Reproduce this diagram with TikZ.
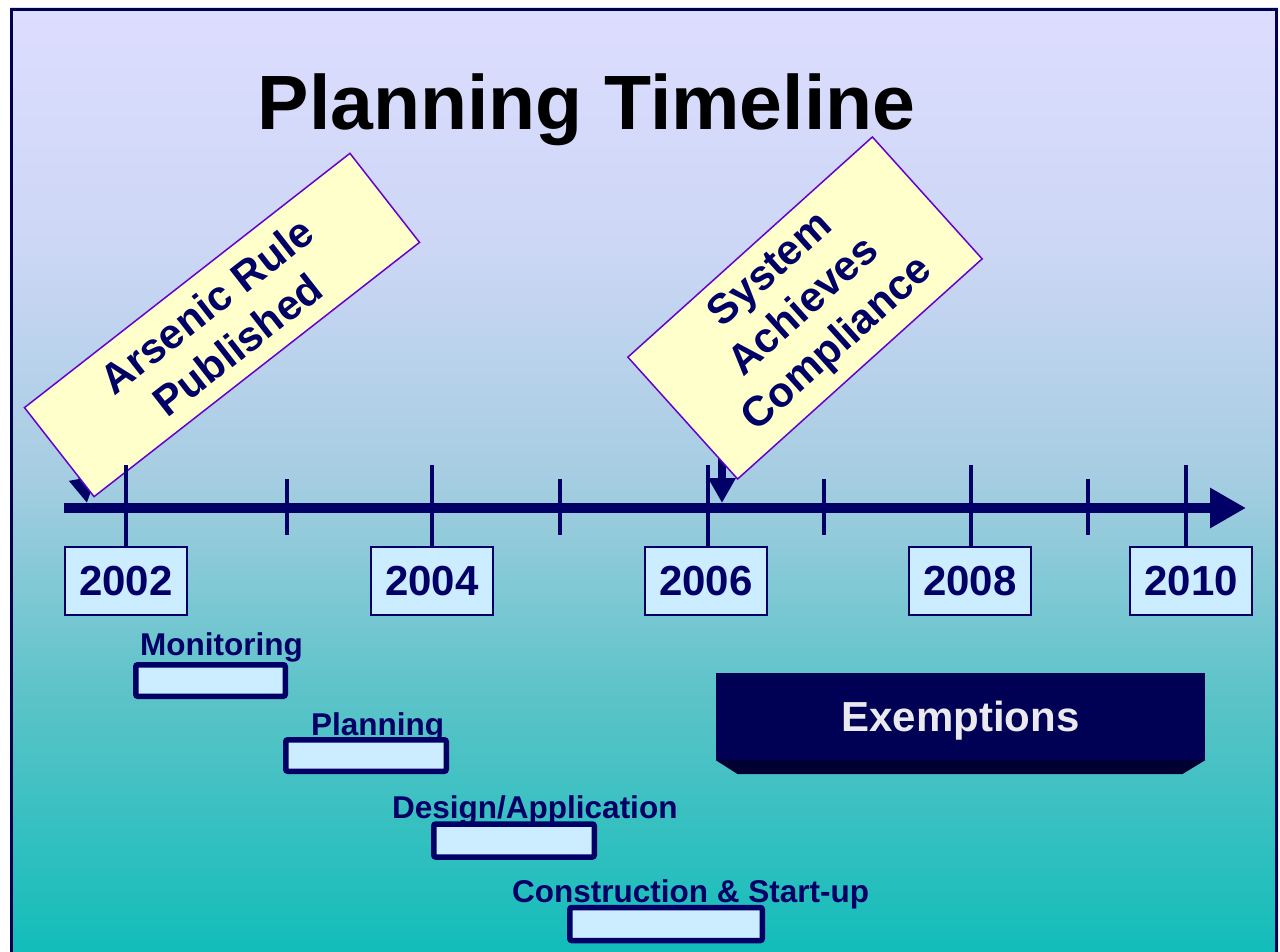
\documentclass[tikz,border=0pt]{standalone}
\usepackage{fontspec}
\setmainfont{Liberation Sans}
\usetikzlibrary{arrows.meta,calc}
\definecolor{navy}{RGB}{0,0,102}
\definecolor{framec}{RGB}{0,0,80}
\definecolor{boxfill}{RGB}{204,236,255}
\definecolor{signfill}{RGB}{255,255,204}
\definecolor{signedge}{RGB}{102,0,204}
\definecolor{exfill}{RGB}{0,0,85}
\definecolor{exdark}{RGB}{0,0,51}
\definecolor{extext}{RGB}{234,234,238}
\definecolor{bgA}{RGB}{18,189,185}
\definecolor{bgB}{RGB}{90,195,200}
\definecolor{bgC}{RGB}{165,205,225}
\definecolor{bgD}{RGB}{205,215,245}
\definecolor{bgE}{RGB}{221,221,255}
\pgfdeclareverticalshading{bgshade}{100bp}{color(0bp)=(bgA); color(25bp)=(bgA); color(38.3bp)=(bgB); color(50bp)=(bgC); color(62.5bp)=(bgD); color(75bp)=(bgE); color(100bp)=(bgE)}
\begin{document}
\begin{tikzpicture}[x=1pt,y=-1pt,
  yearbox/.style={draw=navy, line width=2pt, fill=boxfill, minimum width=122pt, minimum height=68pt, inner sep=0pt, text=navy, font=\fontsize{42}{48}\selectfont\bfseries},
  signbox/.style={draw=signedge, line width=1.5pt, fill=signfill, text=navy, align=center, inner sep=0pt, font=\fontsize{42}{50}\selectfont\bfseries},
  barbox/.style={draw=navy, line width=5.5pt, fill=boxfill, rounded corners=2pt, minimum height=32pt, inner sep=0pt},
  lbl/.style={anchor=base west, inner sep=0pt, text=navy, font=\fontsize{31.5}{36}\selectfont\bfseries},
  longtick/.style={draw=navy, line width=4pt},
  shorttick/.style={draw=navy, line width=3.5pt},
  pointer/.style={draw=navy, line width=8pt, -{Triangle[length=25pt,width=26pt]}},
]
\useasboundingbox (0,0) rectangle (1280,952);
\fill[white] (0,0) rectangle (1280,952);
\shade[shading=bgshade] (10,8) rectangle (1278,952);
\draw[framec, line width=3pt] (11.5,952) -- (11.5,9.5) -- (1276.5,9.5) -- (1276.5,952);

% title
\node[anchor=base, inner sep=0pt, font=\fontsize{77}{90}\selectfont\bfseries] (title) at (586.5,130) {Planning Timeline};

% pointers under the signs
\coordinate (p1s) at (74,430);
\coordinate (p1e) at (87,503);
\coordinate (p2s) at (722,430);
\coordinate (p2e) at (722,503);
\draw[pointer] (p1s) -- (p1e);
\draw[pointer] (p2s) -- (p2e);

% signs
\node[signbox, minimum width=413pt, minimum height=113pt, rotate=38] (arsenic) at (222,325) {Arsenic Rule\\Published};
\node[signbox, minimum width=329pt, minimum height=164pt, rotate=42] (compl) at (805,308) {System\\Achieves\\Compliance};

% axis
\coordinate (ax0) at (64,508);
\coordinate (ax1) at (1246,508);
\draw[navy, line width=10pt, -{Triangle[length=36pt,width=38pt]}] (ax0) -- (ax1);

% year boxes
\node[yearbox] (y2002) at (126,581) {2002};
\node[yearbox] (y2004) at (432,581) {2004};
\node[yearbox] (y2006) at (706,581) {2006};
\node[yearbox] (y2008) at (970,581) {2008};
\node[yearbox] (y2010) at (1191,581) {2010};

% long ticks
\coordinate (t2002) at (126,465);
\coordinate (t2004) at (432,465);
\coordinate (t2006) at (708,465);
\coordinate (t2008) at (971,465);
\coordinate (t2010) at (1186,465);
\foreach \t/\y in {t2002/y2002,t2004/y2004,t2006/y2006,t2008/y2008,t2010/y2010}
  \draw[longtick] (\t) -- (\t |- \y.north);

% short ticks
\foreach \x in {287,560,824,1088}
  \draw[shorttick] (\x,479) -- (\x,535);

% exemptions
\node[fill=exfill, minimum width=489pt, minimum height=87pt, inner sep=0pt, text depth=0pt, text=extext, font=\fontsize{42}{48}\selectfont\bfseries] (ex) at (960.5,716.5) {Exemptions};
\fill[exdark] (ex.south west) -- (ex.south east) -- ($(ex.south east)+(-23,14)$) -- ($(ex.south west)+(22,14)$) -- cycle;

% phase bars
\node[barbox, minimum width=149.5pt, minimum height=31.5pt] (bmon) at (210.5,680.5) {};
\node[barbox, minimum width=160.5pt, minimum height=31.5pt] (bplan) at (366,755.5) {};
\node[barbox, minimum width=160.5pt, minimum height=33pt] (bdes) at (514,840.5) {};
\node[barbox, minimum width=192.5pt, minimum height=33pt] (bcon) at (666,924) {};

% phase labels
\node[lbl] (lmon) at (140,655) {Monitoring};
\node[lbl] (lplan) at (311,735) {Planning};
\node[lbl] (ldes) at (392,818) {Design/Application};
\node[lbl] (lcon) at (512,902) {Construction \& Start-up};
\end{tikzpicture}
\end{document}
